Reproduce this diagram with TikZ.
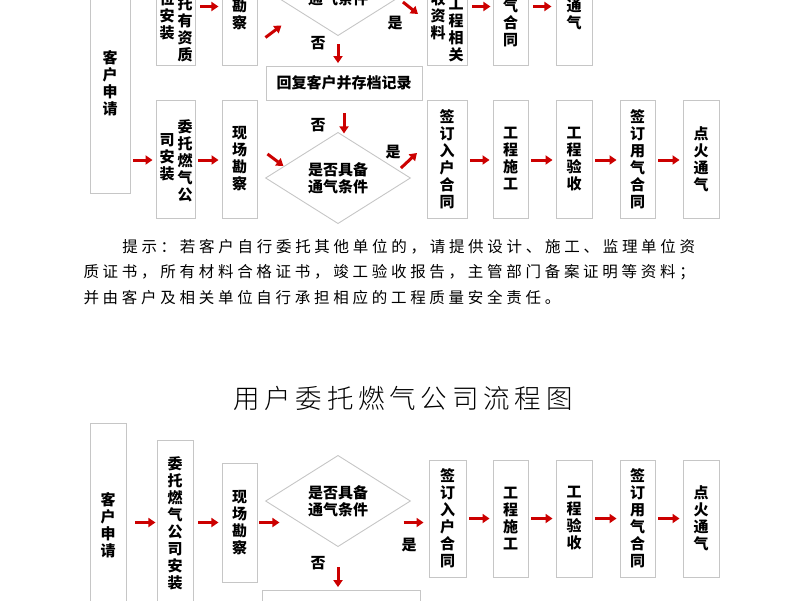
\documentclass[tikz,border=0pt]{standalone}
\usepackage{fontspec}
\setmainfont{Noto Sans CJK SC}
\newfontfamily\lightcjk[LetterSpace=18]{Noto Sans CJK SC Light}
\newfontfamily\notecjk[LetterSpace=24]{Noto Sans CJK SC}
\usetikzlibrary{shapes.geometric, calc, arrows.meta}
\tikzset{
	every node/.style={
		font=\bfseries\fontsize{15}{17}\selectfont
	},
	box/.style={
		shape=rectangle,
		draw=gray!45,
		line width=0.9pt,
		inner sep=0pt,
		align=center
	},
	cond/.style={
		shape=diamond,
		draw=gray!45,
		line width=0.9pt,
		inner sep=0pt,
		align=center
	},
	col/.style={
		align=center,
		inner sep=0pt
	},
	redarrow/.style={
		-{Triangle[length=7pt,width=9pt]},
		line width=3pt,
		draw=red!80!black
	},
}
% box from corner (x1,y1) to (x2,y2), in pixels
\newcommand{\flowbox}[6]{%
	\node[box, minimum width={(#4-#2)*1pt}, minimum height={(#5-#3)*1pt}]
	(#1) at ({(#2+#4)/2},{(#3+#5)/2}) {#6};}
\begin{document}
\begin{tikzpicture}[x=1pt,y=-1pt]
	\useasboundingbox (0,0) rectangle (800,600);
	
	% upper chart
	\flowbox{A-req}{90}{-27}{130}{193}{客\\户\\申\\请}
	\flowbox{A-unit}{156}{-70}{195}{65}{}
	\node[col, anchor=south] (A-unit-r) at (185,62) {委\\托\\有\\资\\质};
	\node[col, anchor=south] (A-unit-l) at (167,40) {单\\位\\安\\装};
	\flowbox{A-site}{222}{-70}{257}{65}{现\\场\\勘\\察}
	\node[cond, minimum width=145pt, minimum height=68pt] (A-cond) at (338,-10) {是否具备\\通气条件};
	\flowbox{A-docs}{427}{-70}{467}{65}{}
	\node[col, anchor=south] (A-docs-r) at (456,62) {工\\程\\相\\关};
	\node[col, anchor=south] (A-docs-l) at (438,40) {验\\收\\资\\料};
	\flowbox{A-gas}{493}{-70}{528}{65}{签\\订\\用\\气\\合\\同}
	\flowbox{A-fire}{556}{-70}{592}{65}{点\\火\\通\\气}
	\flowbox{reply}{266}{66}{422}{100}{回复客户并存档记录}
	
	\flowbox{B-unit}{156}{100}{195}{218}{}
	\node[col, anchor=north] (B-unit-r) at (185,119) {委\\托\\燃\\气\\公};
	\node[col, anchor=north] (B-unit-l) at (167,133) {司\\安\\装};
	\flowbox{B-site}{222}{100}{257}{218}{现\\场\\勘\\察}
	\node[cond, minimum width=145pt, minimum height=68pt] (B-cond) at (338,178) {是否具备\\通气条件};
	\flowbox{B-sign}{427}{100}{467}{218}{签\\订\\入\\户\\合\\同}
	\flowbox{B-build}{493}{100}{528}{218}{工\\程\\施\\工}
	\flowbox{B-check}{556}{100}{592}{218}{工\\程\\验\\收}
	\flowbox{B-gas}{620}{100}{655}{218}{签\\订\\用\\气\\合\\同}
	\flowbox{B-fire}{683}{100}{719}{218}{点\\火\\通\\气}
	
	\draw[redarrow] ($(A-req.east |- A-unit-l)+(5,-31)$) -- ++(18,0);
	\draw[redarrow] ($(A-unit.east)+(5,9)$) -- ++(18,0);
	\draw[redarrow] ($(A-site.east)+(8,40)$) -- ++(16,-12);
	\draw[redarrow] ($(A-cond.east)+(-8,12)$) -- ++(15,12);
	\draw[redarrow] ($(A-docs.east)+(5,9)$) -- ++(18,0);
	\draw[redarrow] ($(A-gas.east)+(5,9)$) -- ++(18,0);
	\draw[redarrow] (A-cond.south) ++(0,8) -- ++(0,19);
	\draw[redarrow] (reply.south) ++(0,13) -- ++(0,20);
	\node (A-no) at (318,43) {否};
	\node (A-yes) at (395,23) {是};
	\node (B-no) at (318,125) {否};
	\node (B-yes) at (393,152) {是};
	\draw[redarrow] ($(A-req.east |- B-unit)+(3,1)$) -- ($(B-unit.west)+(-3,1)$);
	\draw[redarrow] ($(B-unit.east)+(3,1)$) -- ($(B-site.west)+(-3,1)$);
	\draw[redarrow] ($(B-site.east)+(10,-5)$) -- ++(16,12);
	\draw[redarrow] ($(B-cond.east)+(-10,-10)$) -- ++(16,-15);
	\draw[redarrow] ($(B-sign.east)+(3,1)$) -- ($(B-build.west)+(-3,1)$);
	\draw[redarrow] ($(B-build.east)+(3,1)$) -- ($(B-check.west)+(-3,1)$);
	\draw[redarrow] ($(B-check.east)+(3,1)$) -- ($(B-gas.west)+(-3,1)$);
	\draw[redarrow] ($(B-gas.east)+(3,1)$) -- ($(B-fire.west)+(-3,1)$);
	
	% note
	\node[anchor=west, font=\notecjk\fontsize{15.5}{25.5}\selectfont, align=left, text width=700pt] (note) at (80,272)
	{\hspace*{2.5em}提示：若客户自行委托其他单位的，请提供设计、施工、监理单位资\\质证书，所有材料合格证书，竣工验收报告，主管部门备案证明等资料；\\并由客户及相关单位自行承担相应的工程质量安全责任。};
	
	% title
	\node[font=\lightcjk\fontsize{26.5}{30}\selectfont] (title) at (403,398) {用户委托燃气公司流程图};
	
	% lower chart
	\flowbox{C-req}{90}{423}{126}{627}{客\\户\\申\\请}
	\flowbox{C-unit}{157}{440}{193}{606}{委\\托\\燃\\气\\公\\司\\安\\装}
	\flowbox{C-site}{222}{463}{257}{582}{现\\场\\勘\\察}
	\node[cond, minimum width=145pt, minimum height=68pt] (C-cond) at (338,501) {是否具备\\通气条件};
	\flowbox{C-sign}{429}{460}{466}{577}{签\\订\\入\\户\\合\\同}
	\flowbox{C-build}{493}{460}{528}{577}{工\\程\\施\\工}
	\flowbox{C-check}{556}{460}{592}{577}{工\\程\\验\\收}
	\flowbox{C-gas}{620}{460}{655}{577}{签\\订\\用\\气\\合\\同}
	\flowbox{C-fire}{683}{460}{719}{577}{点\\火\\通\\气}
	\flowbox{C-reply}{262}{590}{420}{630}{回复客户并存档记录}
	
	\draw[redarrow] ($(C-req.east |- C-site)+(9,0)$) -- ++(20,0);
	\draw[redarrow] ($(C-unit.east |- C-site)+(5,0)$) -- ++(20,0);
	\draw[redarrow] ($(C-site.east)+(2,0)$) -- ++(20,0);
	\draw[redarrow] ($(C-sign.west |- C-site)+(-25,0)$) -- ++(20,0);
	\draw[redarrow] ($(C-sign.east)+(3,0)$) -- ($(C-build.west)+(-3,0)$);
	\draw[redarrow] ($(C-build.east)+(3,0)$) -- ($(C-check.west)+(-3,0)$);
	\draw[redarrow] ($(C-check.east)+(3,0)$) -- ($(C-gas.west)+(-3,0)$);
	\draw[redarrow] ($(C-gas.east)+(3,0)$) -- ($(C-fire.west)+(-3,0)$);
	\draw[redarrow] (C-cond.south) ++(0,20) -- ++(0,20);
	\node (C-no) at (318,563) {否};
	\node (C-yes) at (409,545) {是};
\end{tikzpicture}
\end{document}
